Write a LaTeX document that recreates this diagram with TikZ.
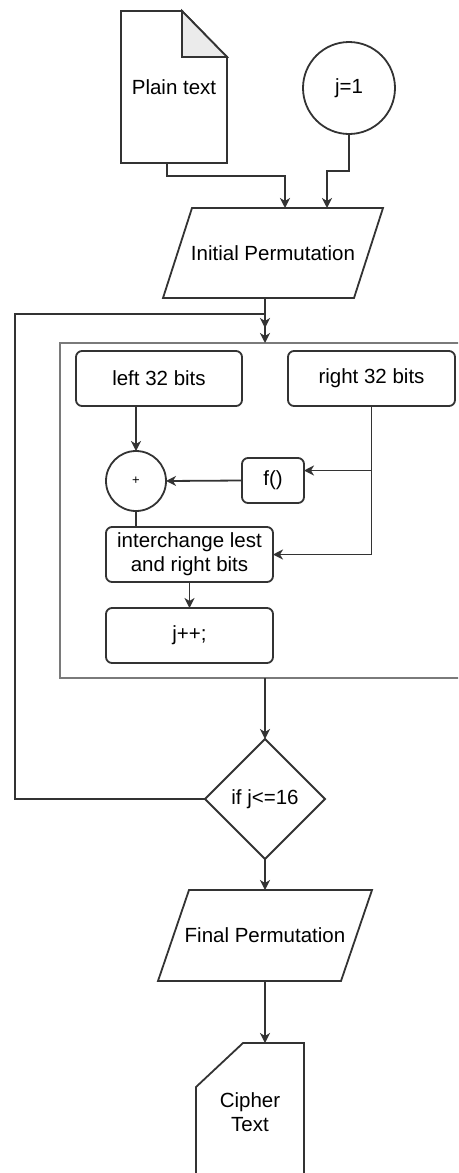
\documentclass[tikz,border=0pt]{standalone}
\usepackage{fontspec}
\setmainfont{Liberation Sans}
\usetikzlibrary{shapes.geometric,arrows.meta,calc}
\definecolor{linec}{HTML}{333333}
\definecolor{contc}{HTML}{7A7A7A}
\definecolor{foldc}{HTML}{EBEBEB}
\tikzset{
  x=1pt, y=-1pt,
  every node/.style={font=\fontsize{20.5}{24}\selectfont, text=black, inner sep=0pt, outer sep=0pt},
  lin/.style={draw=linec, line width=1.8pt},
  arr/.style={lin, -{Stealth[length=10pt,width=10pt,inset=3pt]}},
  rbox/.style={lin, rounded corners=6pt, align=center},
}
\begin{document}
\begin{tikzpicture}
\useasboundingbox (0,0) rectangle (458,1173);
\clip (0,0) rectangle (458,1173);
\fill[white] (0,0) rectangle (458,1173);

% Plain text document
\node[minimum width=106pt, minimum height=152pt] (plain) at (174,87) {Plain text};
\draw[lin, line join=miter] (plain.north west) -- ($(plain.north east)+(-45,0)$) -- ($(plain.north east)+(0,46)$) -- (plain.south east) -- (plain.south west) -- cycle;
\draw[lin, fill=foldc, line join=miter] ($(plain.north east)+(-45,0)$) -- ($(plain.north east)+(-45,46)$) -- ($(plain.north east)+(0,46)$) -- cycle;

% j=1
\node[circle, lin, minimum size=92pt] (j1) at (349,88) {j=1};

% Initial Permutation
\node[minimum width=220pt, minimum height=90pt] (ip) at (273,253) {Initial Permutation};
\draw[lin, line join=miter] ($(ip.north west)+(29,0)$) -- (ip.north east) -- ($(ip.south east)+(-29,0)$) -- (ip.south west) -- cycle;

\draw[arr] ($(plain.south)+(-7,0)$) -- ++(0,13) -| ($(ip.north)+(12,0)$);
\draw[arr] (j1.south) -- ++(0,37) -| ($(ip.north)+(54,0)$);

% container
\node[draw=contc, line width=1.8pt, minimum width=410pt, minimum height=335pt] (cont) at (265,510.5) {};
\draw[arr] (ip.south -| cont.north) -- (cont.north);

% inner nodes
\node[rbox, minimum width=166pt, minimum height=55pt] (left) at (159,378.5) {left 32 bits};
\node[rbox, minimum width=167pt, minimum height=55pt] (right) at (371.5,378.5) {right 32 bits};
\node[circle, lin, minimum size=60pt, font=\fontsize{13}{15}\selectfont] (plus) at (136,481) {+};
\node[rbox, minimum width=62pt, minimum height=45pt] (fbox) at (273,480.5) {f()};
\node[rbox, minimum width=167pt, minimum height=55pt] (inter) at (189.5,554.5) {interchange lest\\and right bits};
\node[rbox, minimum width=167pt, minimum height=55pt] (jpp) at (189.5,635.5) {j++;};

\draw[arr] (left.south -| plus.north) -- (plus.north);
\draw[arr] (right.south) |- ($(fbox.east)+(0,-10)$);
\draw[arr] (right.south) |- (inter.east);
\draw[arr] (fbox.west) -- (plus.east);
\draw[lin] (plus.south) -- (plus.south |- inter.north);
\draw[arr] (inter.south) -- (jpp.north);

% decision
\node[diamond, lin, minimum width=120pt, minimum height=120pt] (dia) at (265,799) {if j<=16};
\draw[arr] (cont.south) -- (dia.north);

\coordinate (lp) at (15,314);
\coordinate (loopend) at (265,328);
\draw[arr] (dia.west) -| (lp) -| (loopend);

% Final permutation
\node[minimum width=214pt, minimum height=91pt] (fp) at (265,935.5) {Final Permutation};
\draw[lin, line join=miter] ($(fp.north west)+(31,0)$) -- (fp.north east) -- ($(fp.south east)+(-31,0)$) -- (fp.south west) -- cycle;
\draw[arr] (dia.south) -- (fp.north);

% Cipher text card
\node[minimum width=108pt, minimum height=138pt, align=center] (ciph) at (250,1112) {Cipher\\Text};
\draw[lin, line join=miter] ($(ciph.north west)+(47,0)$) -- (ciph.north east) -- (ciph.south east) -- (ciph.south west) -- ($(ciph.north west)+(0,44)$) -- cycle;
\draw[arr] (fp.south) -- (fp.south |- ciph.north);
\end{tikzpicture}
\end{document}
